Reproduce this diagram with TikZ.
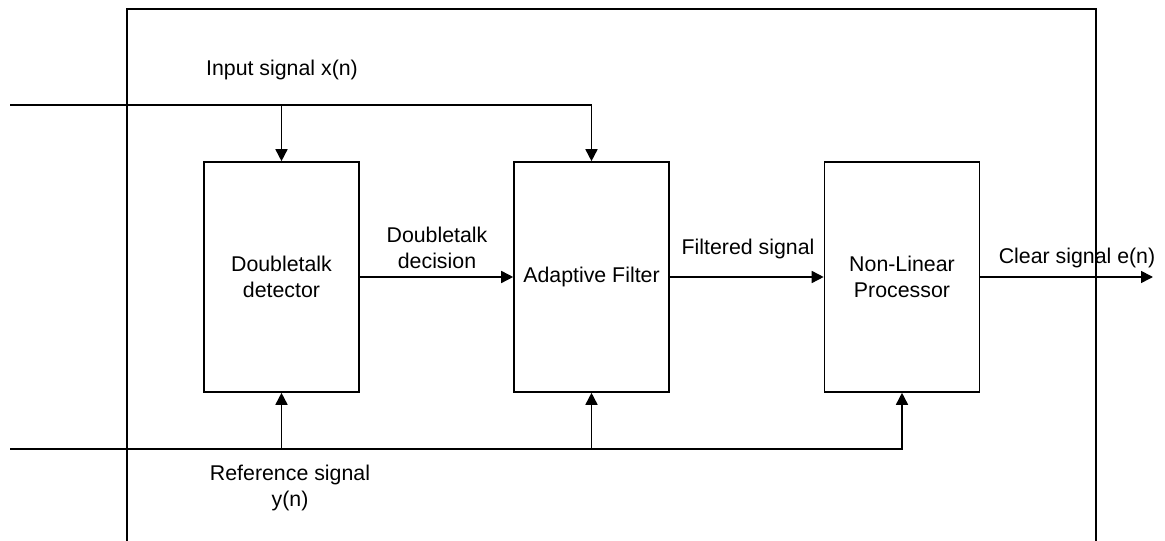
\documentclass[tikz,border=0pt]{standalone}
\usepackage{fontspec}
\setmainfont{Liberation Sans}
\usetikzlibrary{arrows.meta}
\begin{document}
\begin{tikzpicture}[x=0.75pt,y=-0.75pt,
  line width=1.2pt,
  blk/.style={draw, minimum width=116.25pt, minimum height=172.5pt, align=center, font=\fontsize{16pt}{20pt}\selectfont, inner sep=0pt},
  lbl/.style={align=center, font=\fontsize{16pt}{20pt}\selectfont, inner sep=0pt},
  arr/.style={-{Triangle[length=9pt,width=9pt]}}]
\useasboundingbox (0,0) rectangle (1165,541);
% outer frame
\draw (127,541) -- (127,9) -- (1096,9) -- (1096,541);
% blocks
\node[blk] (dd)  at (281.5,277) {Doubletalk\\detector};
\node[blk] (af)  at (591.5,277) {Adaptive Filter};
\node[blk] (nlp) at (902,277) {Non-Linear\\Processor};
% input line
\coordinate (inL) at (10,105);
\draw[arr] (inL) -| (af.north);
\draw[arr] (dd.north |- inL) -- (dd.north);
% reference line
\coordinate (refL) at (10,449);
\draw[arr] (refL) -| (nlp.south);
\draw[arr] (dd.south |- refL) -- (dd.south);
\draw[arr] (af.south |- refL) -- (af.south);
% horizontal arrows
\draw[arr] (dd.east) -- (af.west);
\draw[arr] (af.east) -- (nlp.west);
\coordinate (out) at (1153,277);
\draw[arr] (nlp.east) -- (out);
% labels
\node[lbl] (lin) at (282,70) {Input signal x(n)};
\node[lbl] (ldd) at (437,248) {Doubletalk\\decision};
\node[lbl] (lfs) at (748,249) {Filtered signal};
\node[lbl] (lcs) at (1077,258) {Clear signal e(n)};
\node[lbl] (lref) at (290,488) {Reference signal\\y(n)};
\end{tikzpicture}
\end{document}
